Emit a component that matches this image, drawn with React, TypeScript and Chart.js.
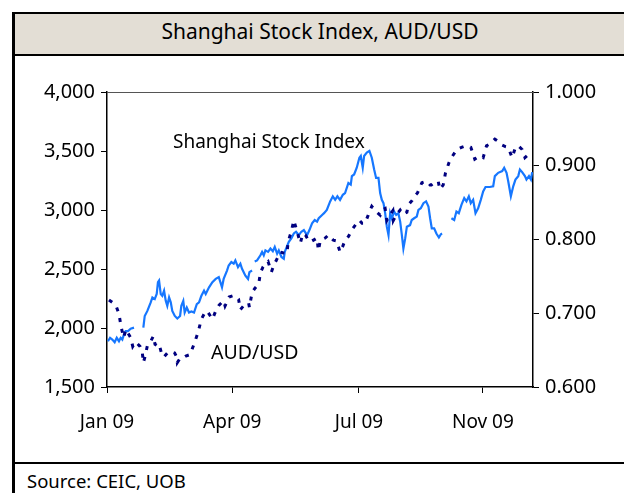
import React, { useEffect, useRef } from "react";
import { Chart, registerables } from "chart.js";
Chart.register(...registerables);

// Days since 1 Jan 2009 (x) and index levels; null = gap in the line
const shanghaiDays = [
  0.7, 2.2, 3.8, 5.5, 7.0, 8.6, 9.8, 11.0, 12.2, 13.4, 15.1, 17.0, 19.4, 22.5,
  26.1, 27.1, 29.0, 31.4, 32.6, 34.3, 35.7, 36.6, 37.4, 38.6, 39.7, 41.0, 42.2, 43.3, 44.6, 45.8, 46.9, 48.7, 50.5, 52.5,
  53.4, 54.8, 55.8, 57.3, 58.9, 60.6, 62.5, 64.5, 66.1, 67.8, 69.7, 70.9, 73.3, 75.7, 78.1, 80.3, 82.6, 83.8, 86.2, 87.4,
  89.3, 91.0, 92.2, 94.1, 95.8, 97.0, 99.4, 101.3, 102.3, 104.2, 105.2,
  106.1, 107.8, 110.2, 111.4, 112.6, 113.8, 115.7, 117.4, 119.1, 120.5, 122.2, 123.4, 125.3, 127.0, 127.7, 130.6, 132.4,
  134.2, 135.8, 137.8, 139.6, 141.4, 143.7, 145.4, 147.3, 149.2, 150.9, 152.1, 154.5, 155.9, 157.9, 160.3, 162.2, 163.9,
  165.5, 167.4, 169.4, 171.0, 173.4, 175.1, 175.9, 177.5, 179.4, 181.3, 182.3, 183.7, 184.7, 186.6, 188.5, 190.2, 191.9,
  193.3, 195.0, 196.2, 197.4, 198.6, 199.8, 201.0, 202.2, 203.4, 204.6, 206.3, 207.7, 209.3, 210.6, 211.8, 212.9, 214.2,
  215.4, 217.7, 218.9, 220.6, 222.5, 223.7, 225.4, 227.3, 229.2, 230.9, 232.1, 233.3, 235.0, 236.6, 238.4, 239.8, 240.7, 244.0,
  247.4, 249.4, 251.0, 252.7, 254.6, 256.6, 258.2, 259.9, 261.3, 263.0, 264.7, 266.6, 268.5, 270.2, 271.9, 275.0, 277.4,
  278.6, 281.0, 283.9, 285.3, 287.0, 288.2, 290.1, 291.8, 293.4, 295.4, 296.6, 298.2, 300.2, 301.3, 303.1, 304.5, 305.4,
];
const shanghaiValues = [
  1888, 1917, 1902, 1879, 1917, 1888, 1917, 1902, 1945, 1974, 1974, 1994, 2003, null,
  2003, 2102, 2145, 2217, 2259, 2245, 2288, 2388, 2402, 2288, 2273, 2316, 2230, 2188, 2259, 2217, 2145, 2102, 2080, 2102,
  2188, 2230, 2131, 2174, 2131, 2140, 2131, 2202, 2217, 2273, 2316, 2288, 2345, 2388, 2416, 2431, 2345, 2416, 2487, 2530,
  2559, 2545, 2573, 2516, 2545, 2502, 2444, 2416, 2473, 2487, null,
  2564, 2573, 2616, 2645, 2616, 2658, 2645, 2673, 2650, 2687, 2630, 2658, 2602, 2587, 2645, 2730, 2759,
  2801, 2816, 2787, 2816, 2830, 2787, 2830, 2887, 2915, 2902, 2930, 2958, 2973, 3001, 3073, 3116, 3086,
  3116, 3086, 3129, 3144, 3229, 3215, 3287, 3301, 3358, 3443, 3458, 3358, 3458, 3486, 3501, 3443, 3343,
  3272, 3272, 3144, 3086, 3058, 2973, 2859, 2787, 2973, 2930, 2987, 2958, 2973, 2902, 2787, 2673, 2759,
  2859, 2872, 2915, 2930, 2944, 3001, 3015, 3058, 3073, 3030, 2930, 2844, 2844, 2801, 2767, 2795, 2801, null,
  2930, 2915, 2987, 2973, 3044, 3101, 3073, 3116, 3058, 3086, 2973, 3015, 3086, 3158, 3195, 3195, 3201,
  3287, 3315, 3330, 3358, 3315, 3244, 3116, 3201, 3258, 3287, 3343, 3321, 3287, 3258, 3287, 3258, 3321,
];

const audDays = [
  1.4, 4.3, 6.5, 8.6, 10.1, 11.9, 13.7, 15.1, 17.0, 18.5, 20.6, 23.7, 25.4, 26.1, 27.3, 29.0, 30.9, 33.3, 34.5, 36.1,
  37.4, 39.7, 41.0, 43.3, 45.8, 48.6, 50.0, 50.5, 52.5, 54.1, 56.6, 59.6, 62.5, 65.4, 67.8, 70.9, 72.6, 75.7, 78.1, 80.5,
  83.8, 84.8, 87.7, 90.9, 94.5, 95.8, 98.5, 101.7, 102.3, 104.2, 106.3, 109.0, 110.2, 112.1, 113.8, 115.7, 118.1, 119.8, 122.2, 124.5,
  126.2, 129.3, 130.1, 132.4, 134.2, 136.5, 138.9, 140.6, 142.5, 145.4, 147.3, 150.9, 151.8, 153.3, 156.7, 159.0, 162.6, 165.0, 167.4, 169.2,
  171.0, 173.4, 176.6, 179.0, 181.3, 183.2, 185.4, 187.8, 190.2, 193.3, 196.2, 197.4, 199.8, 201.0, 202.7, 205.3, 205.7, 208.0, 210.6, 212.7,
  215.4, 216.5, 219.2, 221.0, 223.0, 224.6, 226.2, 227.8, 229.8, 232.1, 233.0, 235.7, 237.9, 239.1, 241.5, 243.1, 245.6, 247.4, 249.9, 252.2,
  254.6, 257.5, 259.4, 261.3, 263.0, 264.2, 265.9, 267.8, 270.2, 272.6, 275.2, 278.6, 281.0, 283.9, 286.2, 288.2, 291.0, 293.4, 295.4, 298.2,
  300.2, 302.5, 304.9,
];
const audValues = [
  0.718, 0.714, 0.710, 0.699, 0.682, 0.667, 0.678, 0.673, 0.667, 0.655, 0.661, 0.655, 0.646, 0.633, 0.641, 0.656, 0.660, 0.669, 0.658, 0.656,
  0.658, 0.642, 0.641, 0.646, 0.648, 0.646, 0.641, 0.633, 0.639, 0.639, 0.642, 0.644, 0.658, 0.674, 0.692, 0.703, 0.701, 0.692, 0.703, 0.711,
  0.717, 0.710, 0.722, 0.724, 0.719, 0.705, 0.711, 0.714, 0.708, 0.728, 0.734, 0.740, 0.755, 0.763, 0.767, 0.770, 0.756, 0.765, 0.774, 0.783,
  0.782, 0.781, 0.797, 0.811, 0.826, 0.811, 0.795, 0.808, 0.806, 0.797, 0.798, 0.802, 0.785, 0.799, 0.802, 0.806, 0.799, 0.798, 0.783, 0.790,
  0.799, 0.804, 0.815, 0.821, 0.826, 0.822, 0.822, 0.834, 0.845, 0.838, 0.833, 0.840, 0.842, 0.826, 0.832, 0.839, 0.826, 0.834, 0.840, 0.834,
  0.837, 0.847, 0.853, 0.859, 0.863, 0.870, 0.877, 0.878, 0.879, 0.874, 0.874, 0.878, 0.879, 0.868, 0.874, 0.890, 0.904, 0.911, 0.918, 0.923,
  0.925, 0.927, 0.926, 0.925, 0.916, 0.909, 0.911, 0.913, 0.911, 0.927, 0.930, 0.936, 0.933, 0.928, 0.926, 0.925, 0.911, 0.925, 0.927, 0.922,
  0.911, 0.915, 0.918,
];

const xTickDays = [0, 90, 181, 270];
const xTickLabels = ["Jan 09", "Apr 09", "Jul 09", "Nov 09"];
const xMaxDay = 306;
const leftTicks = [1500, 2000, 2500, 3000, 3500, 4000];
const rightTicks = [0.6, 0.7, 0.8, 0.9, 1.0];

const FONT = "'Noto Sans', sans-serif";

export default function App() {
  const ref = useRef<HTMLCanvasElement | null>(null);

  useEffect(() => {
    const canvas = ref.current;
    if (!canvas) return;
    const plotBorder = {
      id: "plotBorder",
      beforeDatasetsDraw(chart: any) {
        const { ctx, chartArea } = chart;
        ctx.save();
        ctx.strokeStyle = "#555";
        ctx.lineWidth = 1;
        ctx.beginPath();
        ctx.moveTo(chartArea.left, chartArea.top + 0.5);
        ctx.lineTo(chartArea.right, chartArea.top + 0.5);
        ctx.stroke();
        ctx.restore();
      },
    };
    const gridCommon = {
      display: true,
      drawOnChartArea: false,
      drawTicks: true,
      tickLength: 6,
      color: "#000",
      lineWidth: 1,
    };
    const chart = new Chart(canvas, {
      type: "line",
      data: {
        datasets: [
          {
            label: "AUD/USD",
            data: audDays.map((d, i) => ({ x: d, y: audValues[i] })),
            yAxisID: "yR",
            borderColor: "#000080",
            borderWidth: 3,
            borderDash: [4, 7],
            pointRadius: 0,
            tension: 0,
            spanGaps: false,
          },
          {
            label: "Shanghai Stock Index",
            data: shanghaiDays.map((d, i) => ({ x: d, y: shanghaiValues[i] })),
            yAxisID: "yL",
            borderColor: "#1677ff",
            borderWidth: 2.2,
            pointRadius: 0,
            tension: 0,
            spanGaps: false,
          },
        ],
      },
      options: {
        animation: false,
        responsive: false,
        layout: { padding: { top: 92, left: 0, right: 0, bottom: 0 } },
        plugins: { legend: { display: false }, tooltip: { enabled: false } },
        scales: {
          x: {
            type: "linear",
            min: 0,
            max: xMaxDay,
            afterFit: (s: any) => { s.height = 106; },
            afterBuildTicks: (s: any) => { s.ticks = xTickDays.map((v) => ({ value: v })); },
            grid: gridCommon,
            border: { display: true, color: "#000", width: 1.5 },
            ticks: {
              autoSkip: false,
              maxRotation: 0,
              padding: 18,
              color: "#000",
              font: { family: FONT, size: 19 },
              callback: (v: any) => {
                const i = xTickDays.indexOf(Number(v));
                return i >= 0 ? xTickLabels[i] : "";
              },
            },
          },
          yL: {
            type: "linear",
            position: "left",
            min: 1500,
            max: 4000,
            afterFit: (s: any) => { s.width = 107; },
            afterBuildTicks: (s: any) => { s.ticks = leftTicks.map((v) => ({ value: v })); },
            grid: gridCommon,
            border: { display: true, color: "#000", width: 1.5 },
            ticks: {
              padding: 6,
              color: "#000",
              font: { family: FONT, size: 20 },
              callback: (v: any) => Number(v).toLocaleString("en-US"),
            },
          },
          yR: {
            type: "linear",
            position: "right",
            min: 0.6,
            max: 1.0,
            afterFit: (s: any) => { s.width = 91; },
            afterBuildTicks: (s: any) => { s.ticks = rightTicks.map((v) => ({ value: v })); },
            grid: gridCommon,
            border: { display: true, color: "#000", width: 1.5 },
            ticks: {
              padding: 6,
              color: "#000",
              font: { family: FONT, size: 20 },
              callback: (v: any) => Number(v).toFixed(3),
            },
          },
        },
      },
      plugins: [plotBorder],
    });
    return () => chart.destroy();
  }, []);

  const text: React.CSSProperties = {
    position: "absolute",
    fontFamily: FONT,
    color: "#000",
    whiteSpace: "nowrap",
    lineHeight: 1,
  };

  return (
    <div style={{ position: "fixed", left: 0, top: 0, width: 624, height: 493, background: "#fff", overflow: "hidden" }}>
      {/* frame */}
      <div style={{ position: "absolute", left: 12, top: 12, width: 640, height: 40, background: "#e3ded5", borderTop: "2px solid #000", borderBottom: "2px solid #000" }} />
      <div style={{ position: "absolute", left: 12, top: 12, width: 3, height: 500, background: "#000" }} />
      <div style={{ position: "absolute", left: 12, top: 462, width: 640, height: 2, background: "#000" }} />
      <div style={{ ...text, left: 0, width: 640, top: 21, textAlign: "center", fontSize: 21 }}>Shanghai Stock Index, AUD/USD</div>
      <div style={{ ...text, left: 27, top: 472, fontSize: 18.5 }}>Source: CEIC, UOB</div>
      <canvas ref={ref} width={624} height={493} style={{ position: "absolute", left: 0, top: 0, width: 624, height: 493 }} />
      <div style={{ ...text, left: 173, top: 132, fontSize: 19 }}>Shanghai Stock Index</div>
      <div style={{ ...text, left: 211, top: 342, fontSize: 19.5 }}>AUD/USD</div>
    </div>
  );
}
